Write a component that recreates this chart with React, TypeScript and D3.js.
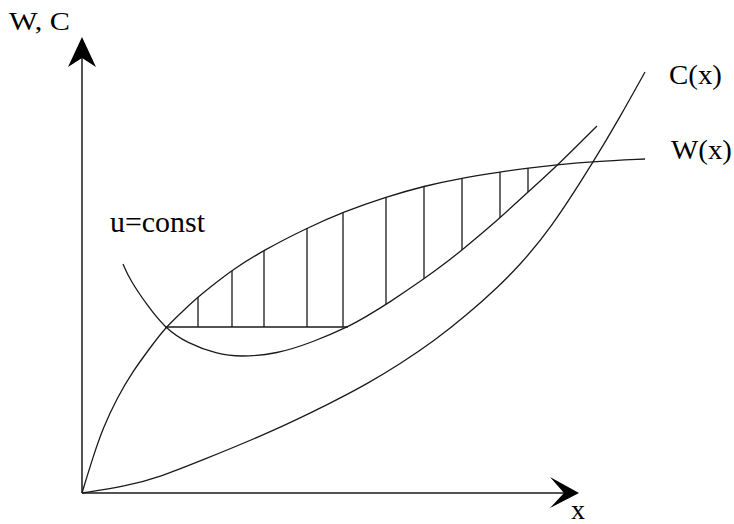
import React from "react";
import * as d3 from "d3";

// Data units: x grows right from origin, y grows up from origin.
const wPoints: [number, number][] = [
  [0, 0], [11, 36], [21, 65], [35, 95], [51, 122], [68, 145], [83, 165], [101, 182],
  [116, 196], [131, 208], [150, 223], [182, 243], [225, 265], [261, 281], [304, 296],
  [342, 307], [380, 315], [418, 321], [446, 325], [477, 328.5], [512, 331.5], [563, 334],
];
const cPoints: [number, number][] = [
  [0, 0], [45, 7], [78, 16], [118, 32], [185, 59], [251, 91], [285, 109], [318, 129],
  [352, 152], [385, 178], [418, 208], [435, 225], [468, 263], [512, 332], [538, 376], [563, 421],
];
const uPoints: [number, number][] = [
  [41, 229], [48, 213], [65, 188], [83, 165], [105, 150], [135, 139], [158, 136],
  [195, 139], [231, 151], [266, 166], [285, 177], [305, 189], [342, 214], [365, 231],
  [380, 243], [418, 275], [445, 300], [477, 329], [515, 367],
];
const hatchX: number[] = [116, 150, 182, 225, 261, 304, 342, 380, 418, 446];
const hLineY = 166;
const hLineX: [number, number] = [83, 266];
const xAxisEnd = 497;
const yAxisEnd = 456;

const labels = {
  yAxis: "W, C",
  xAxis: "x",
  u: "u=const",
  c: "C(x)",
  w: "W(x)",
};

const W = 734;
const H = 524;

export default function App() {
  const x = d3.scaleLinear().domain([0, 500]).range([82, 582]);
  const y = d3.scaleLinear().domain([0, 450]).range([493, 43]);
  const curve = d3.curveBasis;

  const line = d3
    .line<[number, number]>()
    .x((d) => x(d[0]))
    .y((d) => y(d[1]))
    .curve(curve);

  const areaBelow = d3
    .area<[number, number]>()
    .x((d) => x(d[0]))
    .y0(() => y(-50))
    .y1((d) => y(d[1]))
    .curve(curve);

  const areaAbove = d3
    .area<[number, number]>()
    .x((d) => x(d[0]))
    .y0(() => y(600))
    .y1((d) => y(d[1]))
    .curve(curve);

  const stroke = "#1a1a1a";
  const ox = x(0);
  const oy = y(0);
  const yt = y(yAxisEnd);
  const xt = x(xAxisEnd);

  const font = "'Liberation Serif', 'Times New Roman', serif";

  return (
    <svg
      width={W}
      height={H}
      viewBox={`0 0 ${W} ${H}`}
      style={{ position: "absolute", left: 0, top: 0, background: "#fff" }}
    >
      <defs>
        <clipPath id="underW">
          <path d={areaBelow(wPoints) || ""} />
        </clipPath>
        <clipPath id="aboveU">
          <path d={areaAbove(uPoints) || ""} />
        </clipPath>
        <clipPath id="aboveH">
          <rect x={0} y={0} width={W} height={y(hLineY)} />
        </clipPath>
      </defs>

      {/* axes */}
      <line x1={ox} y1={oy} x2={ox} y2={yt + 10} stroke={stroke} strokeWidth={1.5} />
      <line x1={ox} y1={oy} x2={xt - 10} y2={oy} stroke={stroke} strokeWidth={1.5} />
      <path
        d={`M${ox},${yt} L${ox - 14},${yt + 30} L${ox},${yt + 21} L${ox + 14},${yt + 30} Z`}
        fill="#000"
      />
      <path
        d={`M${xt},${oy} L${xt - 29},${oy - 16} L${xt - 15},${oy} L${xt - 29},${oy + 15} Z`}
        fill="#000"
      />

      {/* curves */}
      <path d={line(wPoints) || ""} fill="none" stroke={stroke} strokeWidth={1.3} />
      <path d={line(cPoints) || ""} fill="none" stroke={stroke} strokeWidth={1.3} />
      <path d={line(uPoints) || ""} fill="none" stroke={stroke} strokeWidth={1.3} />

      {/* hatching */}
      <line
        x1={x(hLineX[0])}
        y1={y(hLineY)}
        x2={x(hLineX[1])}
        y2={y(hLineY)}
        stroke={stroke}
        strokeWidth={1.3}
      />
      <g clipPath="url(#underW)">
        <g clipPath="url(#aboveU)">
          <g clipPath="url(#aboveH)">
            {hatchX.map((hx) => (
              <line
                key={hx}
                x1={x(hx)}
                x2={x(hx)}
                y1={y(0)}
                y2={y(450)}
                stroke={stroke}
                strokeWidth={1.3}
              />
            ))}
          </g>
        </g>
      </g>

      {/* labels */}
      <g fontFamily={font} fill="#000">
        <text x={9} y={30} fontSize={26} textLength={61} lengthAdjust="spacingAndGlyphs">
          {labels.yAxis}
        </text>
        <text x={110} y={232} fontSize={29} textLength={95} lengthAdjust="spacingAndGlyphs">
          {labels.u}
        </text>
        <text x={669} y={84} fontSize={28} textLength={53} lengthAdjust="spacingAndGlyphs">
          {labels.c}
        </text>
        <text x={671} y={159} fontSize={28} textLength={61} lengthAdjust="spacingAndGlyphs">
          {labels.w}
        </text>
        <text x={571} y={519} fontSize={28}>
          {labels.xAxis}
        </text>
      </g>
    </svg>
  );
}
